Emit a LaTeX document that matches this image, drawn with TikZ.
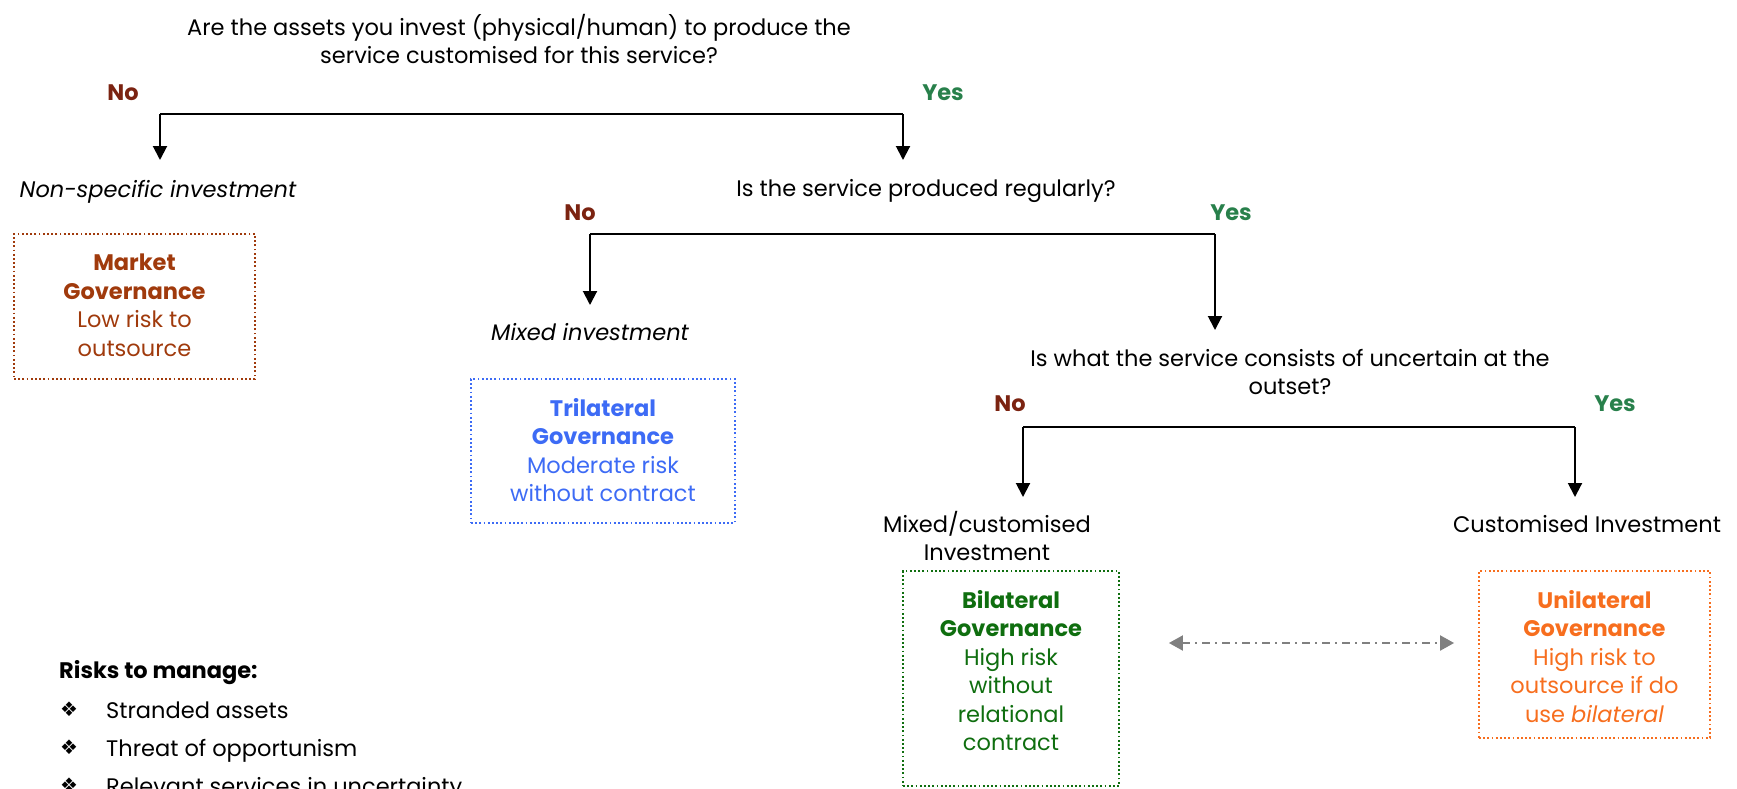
\documentclass[tikz,border=0pt]{standalone}
\usepackage{fontspec}
\setmainfont{Poppins}
\newfontfamily\dejavu{DejaVu Sans}
\usetikzlibrary{arrows.meta}
\definecolor{noc}{RGB}{123,35,17}
\definecolor{yesc}{RGB}{40,128,75}
\definecolor{mktc}{RGB}{160,58,12}
\definecolor{tric}{RGB}{61,107,245}
\definecolor{bilc}{RGB}{15,110,15}
\definecolor{unic}{RGB}{247,110,30}
\definecolor{ddc}{RGB}{128,128,128}
\begin{document}
\begin{tikzpicture}[x=1pt,y=-1pt,
  font=\fontsize{22.5}{28.5}\selectfont,
  bar/.style={line width=2pt},
  arr/.style={line width=2pt,-{Triangle[length=14pt,width=14pt]}},
  lab/.style={anchor=north,inner sep=0pt,outer xsep=0pt,outer ysep=20pt,align=center},
  nolab/.style={anchor=base,inner sep=0pt,text=noc,font=\fontsize{22.5}{28.5}\selectfont\bfseries},
  yeslab/.style={anchor=base,inner sep=0pt,text=yesc,font=\fontsize{22.5}{28.5}\selectfont\bfseries},
  govbox/.style={draw=#1,line width=1.8pt,dash pattern=on 1.8pt off 2.4pt,minimum height=0pt,inner sep=0pt},
  govtext/.style={anchor=north,inner sep=0pt,align=center,text=#1},
  dd/.style={draw=ddc,line width=2pt,dash pattern=on 8pt off 5pt on 2pt off 5pt,
     {Triangle[length=14pt,width=15pt]}-{Triangle[length=14pt,width=15pt]}},
  risk/.style={anchor=base west,inner sep=0pt,font=\fontsize{22.5}{28.5}\selectfont},
  bullet/.style={anchor=base,inner sep=0pt,font=\dejavu\fontsize{20}{20}\selectfont}
]
\useasboundingbox (0,0) rectangle (1737,788);
\clip (0,0) rectangle (1737,788);

% questions
\node[anchor=north,inner sep=0pt,align=center] (q1) at (519,14)
  {Are the assets you invest (physical/human) to produce the\\service customised for this service?};

\coordinate (b1L) at (160,114);
\coordinate (b1R) at (903,114);
\node[nolab] (no1) at (123,100) {No};
\node[yeslab] (yes1) at (943,100) {Yes};

\node[lab,outer ysep=20pt] (ns) at (158,160) {\itshape Non-specific investment};
\node[lab,outer ysep=19pt] (q2) at (926,160) {Is the service produced regularly?};

\draw[bar] (b1L) -- (b1R);
\draw[arr] (b1L) -- (b1L |- ns.north);
\draw[arr] (b1R) -- (b1R |- q2.north);

\coordinate (b2L) at (590,234);
\coordinate (b2R) at (1215,234);
\node[nolab] (no2) at (580,220) {No};
\node[yeslab] (yes2) at (1231,220) {Yes};

\node[lab,outer ysep=18pt] (mixed) at (590,305) {\itshape Mixed investment};
\node[lab,outer ysep=19pt] (q3) at (1290,330) {Is what the service consists of uncertain at the\\outset?};

\draw[bar] (b2L) -- (b2R);
\draw[arr] (b2L) -- (b2L |- mixed.north);
\draw[arr] (b2R) -- (b2R |- q3.north);

\coordinate (b3L) at (1023,427);
\coordinate (b3R) at (1575,427);
\node[nolab] (no3) at (1010,411) {No};
\node[yeslab] (yes3) at (1615,411) {Yes};

\node[lab,outer ysep=14pt] (mixcust) at (987,497) {Mixed/customised\\Investment};
\node[lab,outer ysep=18pt] (custinv) at (1587,497) {Customised Investment};

\draw[bar] (b3L) -- (b3R);
\draw[arr] (b3L) -- (b3L |- mixcust.north);
\draw[arr] (b3R) -- (b3R |- custinv.north);

% governance boxes
\node[govbox=mktc,minimum width=241pt,minimum height=145pt] (mkt) at (134.5,306.5) {};
\node[govtext=mktc] (mktT) at (134.5,254) {\bfseries Market\\\bfseries Governance\\Low risk to\\outsource};

\node[govbox=tric,minimum width=264pt,minimum height=144pt] (tri) at (603,451) {};
\node[govtext=tric] (triT) at (603,398) {\bfseries Trilateral\\\bfseries Governance\\Moderate risk\\without contract};

\node[govbox=bilc,minimum width=216pt,minimum height=215pt] (bil) at (1011,678.5) {};
\node[govtext=bilc] (bilT) at (1011,590) {\bfseries Bilateral\\\bfseries Governance\\High risk\\without\\relational\\contract};

\node[govbox=unic,minimum width=231pt,minimum height=167pt] (uni) at (1594.5,654.5) {};
\node[govtext=unic] (uniT) at (1594.5,590) {\bfseries Unilateral\\\bfseries Governance\\High risk to\\outsource if do\\use \itshape bilateral};

\coordinate (ddy) at (0,643);
\draw[dd,shorten <=49pt,shorten >=24pt] (bil.east |- ddy) -- (uni.west |- ddy);

% risks
\node[risk,font=\fontsize{22.5}{28.5}\selectfont\bfseries] (rt) at (59,678) {Risks to manage:};
\node[risk] (r1) at (106,718) {Stranded assets};
\node[risk] (r2) at (106,756) {Threat of opportunism};
\node[risk] (r3) at (106,794) {Relevant services in uncertainty};
\node[bullet] (u1) at (69,716) {❖};
\node[bullet] (u2) at (69,754) {❖};
\node[bullet] (u3) at (69,792) {❖};
\end{tikzpicture}
\end{document}
